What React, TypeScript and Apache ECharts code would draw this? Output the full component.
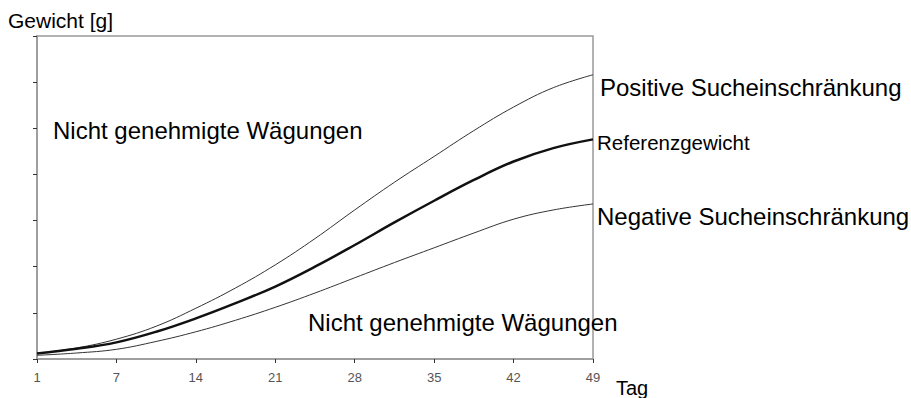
import React, { useEffect, useRef } from "react";
import * as echarts from "echarts";

// Tick labels (days) shown at equally spaced tick positions 0..7
const xLabels = ["1", "7", "14", "21", "28", "35", "42", "49"];
// Sample positions along the day axis (in tick-index units)
const samplePositions = [0, 0.5, 1, 1.5, 2, 2.5, 3, 3.5, 4, 4.5, 5, 5.5, 6, 6.5, 7];
const positiveLimit = [0.12, 0.24, 0.43, 0.71, 1.1, 1.54, 2.04, 2.61, 3.23, 3.83, 4.39, 4.95, 5.46, 5.88, 6.16];
const referenceWeight = [0.12, 0.22, 0.36, 0.59, 0.88, 1.21, 1.57, 2.0, 2.47, 2.96, 3.43, 3.88, 4.28, 4.57, 4.76];
const negativeLimit = [0.08, 0.13, 0.21, 0.38, 0.59, 0.84, 1.12, 1.43, 1.76, 2.09, 2.41, 2.73, 3.03, 3.23, 3.36];

const FONT = "'Liberation Sans', Arial, sans-serif";

export default function App() {
  const ref = useRef<HTMLDivElement>(null);
  useEffect(() => {
    if (!ref.current) return;
    const chart = echarts.init(ref.current, undefined, { renderer: "svg" });
    const txt = (text: string, x: number, y: number, size: number) => ({
      type: "text",
      x,
      y,
      style: {
        text,
        fontSize: size,
        fontFamily: FONT,
        fill: "#000",
        textVerticalAlign: "middle",
        textAlign: "left",
      },
    });
    const line = (name: string, values: number[], color: string, width: number) => ({
      name,
      type: "line",
      data: samplePositions.map((p, i) => [p, values[i]]),
      smooth: 0.4,
      symbol: "none",
      lineStyle: { color, width },
    });
    chart.setOption({
      animation: false,
      backgroundColor: "#fff",
      grid: {
        left: 37,
        right: 318,
        top: 36,
        bottom: 39,
        show: true,
        borderColor: "#999",
        borderWidth: 1.5,
        backgroundColor: "transparent",
      },
      xAxis: {
        type: "value",
        min: 0,
        max: 7,
        interval: 1,
        axisLine: { lineStyle: { color: "#999", width: 1.5 } },
        axisTick: { show: true, length: 4, lineStyle: { color: "#333" } },
        axisLabel: {
          color: "#555",
          fontSize: 13,
          fontFamily: FONT,
          margin: 12,
          formatter: (v: number) => xLabels[Math.round(v)] ?? "",
        },
        splitLine: { show: false },
      },
      yAxis: {
        type: "value",
        min: 0,
        max: 7,
        interval: 1,
        axisLine: { show: true, lineStyle: { color: "#999", width: 1.5 } },
        axisTick: { show: true, length: 4, lineStyle: { color: "#333" } },
        axisLabel: { show: false },
        splitLine: { show: false },
      },
      series: [
        line("Positive Sucheinschränkung", positiveLimit, "#333", 1),
        line("Referenzgewicht", referenceWeight, "#111", 2.5),
        line("Negative Sucheinschränkung", negativeLimit, "#333", 1),
      ],
      graphic: [
        txt("Gewicht [g]", 8, 20, 21),
        txt("Nicht genehmigte Wägungen", 53, 130, 24),
        txt("Nicht genehmigte Wägungen", 308, 322, 24),
        txt("Positive Sucheinschränkung", 600, 87, 24),
        txt("Referenzgewicht", 597, 142, 20.5),
        txt("Negative Sucheinschränkung", 597, 216, 24),
        txt("Tag", 616, 388, 20),
      ],
    });
    return () => chart.dispose();
  }, []);
  return (
    <div
      ref={ref}
      style={{ position: "fixed", left: 0, top: 0, width: 911, height: 398 }}
    />
  );
}
